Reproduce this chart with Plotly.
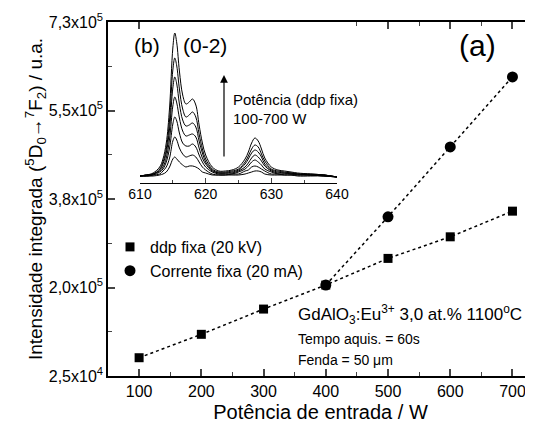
import plotly.graph_objects as go

# ---- main panel data (a) ----
power = [100, 200, 300, 400, 500, 600, 700]
ddp_fixa = [61400, 108000, 158300, 206100, 259200, 302200, 353300]
power_corr = [400, 500, 600, 700]
corrente_fixa = [206100, 342000, 481300, 620600]

y_tickvals = [25000, 201250, 377500, 553750, 730000]
y_ticktext = ["2,5x10<sup>4</sup>", "2,0x10<sup>5</sup>", "3,8x10<sup>5</sup>",
              "5,5x10<sup>5</sup>", "7,3x10<sup>5</sup>"]

# ---- inset spectra (b), arbitrary units ----
wl = [610, 611, 612, 613, 613.5, 614, 614.5, 615, 615.3, 615.6, 616, 616.5, 617, 617.5,
      618, 618.5, 619, 619.5, 620, 621, 622, 623, 624, 625, 626, 626.5, 627, 627.5,
      628, 628.5, 629, 630, 631, 632, 633, 634, 636, 638, 640]
sp_700 = [7, 8, 10, 16, 24, 40, 75, 135, 150, 140, 112, 88, 79, 81, 84, 78, 58, 40, 28,
          16, 12, 12, 13, 16, 24, 31, 40, 45, 42, 34, 25, 16, 13, 12, 11, 10, 9, 8, 6]
sp_600 = [7, 8, 9, 14, 21, 34, 63, 113, 125, 117, 94, 74, 66, 68, 71, 66, 49, 34, 24,
          14, 11, 11, 12, 14, 21, 27, 34, 38, 36, 29, 22, 14, 12, 11, 10, 9, 9, 8, 6]
sp_500 = [7, 8, 9, 13, 19, 30, 54, 95, 106, 99, 79, 63, 57, 58, 60, 56, 42, 30, 21,
          13, 10, 10, 11, 13, 19, 24, 30, 33, 31, 26, 19, 13, 11, 10, 10, 9, 8, 8, 6]
sp_400 = [7, 8, 9, 12, 16, 25, 44, 77, 86, 80, 65, 52, 47, 48, 49, 46, 35, 25, 19,
          12, 10, 10, 10, 12, 16, 20, 25, 28, 26, 22, 17, 12, 10, 10, 9, 9, 8, 8, 6]
sp_300 = [7, 7, 8, 11, 14, 21, 35, 59, 66, 62, 50, 40, 37, 37, 39, 36, 28, 21, 16,
          11, 9, 9, 9, 11, 14, 17, 21, 23, 21, 18, 14, 11, 9, 9, 9, 8, 8, 7, 6]
sp_200 = [7, 7, 8, 9, 12, 16, 25, 42, 46, 43, 35, 29, 26, 27, 28, 26, 21, 16, 13,
          9, 8, 8, 9, 9, 12, 13, 16, 17, 16, 14, 12, 9, 9, 8, 8, 8, 8, 7, 6]
sp_100 = [7, 7, 7, 8, 9, 11, 16, 24, 26, 24, 21, 18, 16, 17, 17, 16, 14, 11, 10,
          8, 8, 8, 8, 8, 9, 10, 11, 12, 12, 11, 9, 8, 8, 8, 8, 7, 7, 7, 6]
spectra = [sp_100, sp_200, sp_300, sp_400, sp_500, sp_600, sp_700]

FONT = "Liberation Sans, Arial, sans-serif"

fig = go.Figure()

# main series
fig.add_trace(go.Scatter(x=power, y=ddp_fixa, mode="lines+markers", showlegend=False,
                         line=dict(color="black", width=1.5, dash="dot"),
                         marker=dict(symbol="square", size=9, color="black")))
fig.add_trace(go.Scatter(x=power_corr, y=corrente_fixa, mode="lines+markers", showlegend=False,
                         line=dict(color="black", width=1.5, dash="dot"),
                         marker=dict(symbol="circle", size=11, color="black")))
# legend entries (marker only)
fig.add_trace(go.Scatter(x=[None], y=[None], mode="markers", name="ddp fixa (20 kV)",
                         marker=dict(symbol="square", size=9, color="black")))
fig.add_trace(go.Scatter(x=[None], y=[None], mode="markers", name="Corrente fixa (20 mA)",
                         marker=dict(symbol="circle", size=11, color="black")))

# inset spectra
for sp in spectra:
    fig.add_trace(go.Scatter(x=wl, y=sp, mode="lines", xaxis="x2", yaxis="y2",
                             showlegend=False, line=dict(color="black", width=1, shape="spline")))

OFF = 8  # page body margin
W, H = 533 - OFF, 431 - OFF
L, R, T, B = 108 - OFF, 0, 22 - OFF, 55
PW, PH = W - L - R, H - T - B


def px(xp):
    return (xp - OFF - L) / PW


def py(yp):
    return (H - B - (yp - OFF)) / PH


fig.update_layout(
    width=W, height=H,
    margin=dict(l=L, r=R, t=T, b=B, autoexpand=False),
    paper_bgcolor="white", plot_bgcolor="white",
    font=dict(family=FONT, color="black", size=14),
    xaxis=dict(range=[50, 733], tickvals=[100, 200, 300, 400, 500, 600, 700],
               ticks="inside", ticklen=7, tickwidth=1.5, showline=True, linecolor="black",
               linewidth=1.5, mirror="ticks", showgrid=False, zeroline=False,
               tickfont=dict(size=16), automargin=False,
               minor=dict(tick0=50, dtick=50, ticks="inside", ticklen=4, tickwidth=1.2),
               title=dict(text="Potência de entrada / W", font=dict(size=20), standoff=6)),
    yaxis=dict(range=[25000, 730000], tickvals=y_tickvals, ticktext=y_ticktext,
               ticks="inside", ticklen=7, tickwidth=1.5, showline=True, linecolor="black",
               linewidth=1.5, mirror=False, showgrid=False, zeroline=False,
               tickfont=dict(size=16), automargin=False,
               minor=dict(tick0=25000, dtick=88125, ticks="inside", ticklen=4, tickwidth=1.2),
               title=dict(text="Intensidade integrada (<sup>5</sup>D<sub>0</sub>→<sup>7</sup>F<sub>2</sub>) / u.a.",
                          font=dict(size=19), standoff=1)),
    xaxis2=dict(domain=[px(140), px(337)], anchor="y2", range=[610, 640],
                tickvals=[610, 620, 630, 640], ticks="inside", ticklen=5, tickwidth=1,
                showline=True, linecolor="black", linewidth=1, showgrid=False, zeroline=False,
                tickfont=dict(size=14), automargin=False, ticklabelstandoff=-2,
                minor=dict(tick0=610, dtick=5, ticks="inside", ticklen=3, tickwidth=1)),
    yaxis2=dict(domain=[py(183), 1.0], anchor="x2", range=[0, 161], visible=False),
    legend=dict(x=px(110), y=py(230), xanchor="left", yanchor="top", bgcolor="rgba(0,0,0,0)",
                font=dict(size=16), itemsizing="trace", tracegroupgap=0),
    showlegend=True,
)

ann = [
    dict(text="(a)", x=477, y=45, size=30),
    dict(text="GdAlO<sub>3</sub>:Eu<sup>3+</sup> 3,0 at.% 1100<sup>o</sup>C", x=296, y=314, size=17, anchor="left"),
    dict(text="Tempo aquis. = 60s", x=296, y=339, size=14, anchor="left"),
    dict(text="Fenda = 50 μm", x=296, y=360, size=14, anchor="left"),
    dict(text="(b)", x=147, y=45, size=21),
    dict(text="(0-2)", x=205, y=45, size=21),
    dict(text="Potência (ddp fixa)", x=231, y=99, size=15, anchor="left"),
    dict(text="100-700 W", x=231, y=118, size=15, anchor="left"),
]
for a in ann:
    fig.add_annotation(text=a["text"], xref="paper", yref="paper",
                       x=px(a["x"]), y=py(a["y"]),
                       xanchor=a.get("anchor", "center"), yanchor="middle",
                       showarrow=False, font=dict(size=a["size"], family=FONT, color="black"))

# arrow in inset
fig.add_annotation(xref="paper", yref="paper", axref="pixel", ayref="pixel",
                   x=px(224), y=py(75), ax=0, ay=83,
                   text="", showarrow=True, arrowhead=2, arrowsize=1.3, arrowwidth=1.2,
                   arrowcolor="black")

fig.write_html("out.html")
